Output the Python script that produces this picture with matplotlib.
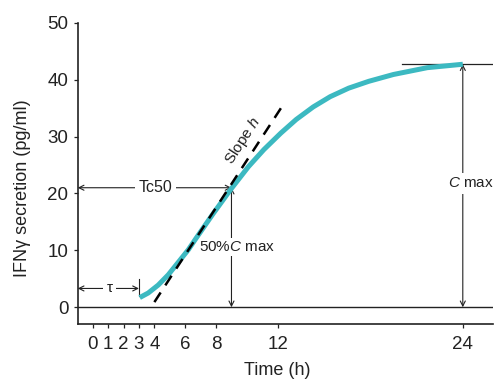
import matplotlib
matplotlib.use("Agg")
import matplotlib.pyplot as plt

plt.rcParams['font.family'] = ['Liberation Sans', 'DejaVu Sans']
plt.rcParams['mathtext.fontset'] = 'custom'
plt.rcParams['mathtext.it'] = 'Liberation Sans:italic'
plt.rcParams['mathtext.rm'] = 'Liberation Sans'

# ---- data ----
time_h = [3.05, 3.6, 4.25, 4.9, 5.55, 6.2, 6.7, 7.8, 8.95, 10.1, 11.1, 12.2,
          13.2, 14.3, 15.4, 16.6, 17.9, 19.5, 21.7, 24.0]
ifng = [1.7, 2.5, 3.9, 5.7, 7.9, 10.1, 12.1, 16.4, 20.7, 24.7, 27.7, 30.6,
        33.0, 35.2, 37.0, 38.5, 39.7, 40.9, 42.1, 42.7]
slope_t = [4.0, 12.5]
slope_y = [0.9, 36.2]
x_ticks = [0, 1, 2, 3, 4, 6, 8, 12, 24]
y_ticks = [0, 10, 20, 30, 40, 50]
tau = 3.0
tc50 = 9.0
cmax = 42.7
c50 = 21.0
t_cmax = 24.0

xmin, xmax = -0.97, 25.96
ymin, ymax = -3, 50

fig = plt.figure(figsize=(4.96, 3.81), dpi=100)
ax = fig.add_axes([0.1567, 0.1488, 0.8373, 0.7916])
ax.set_xlim(xmin, xmax)
ax.set_ylim(ymin, ymax)

ink = '#222222'
for s in ['top', 'right']:
    ax.spines[s].set_visible(False)
for s in ['left', 'bottom']:
    ax.spines[s].set_linewidth(1.2)
    ax.spines[s].set_color(ink)

ax.set_xticks(x_ticks)
ax.set_yticks(y_ticks)
ax.tick_params(axis='both', direction='out', length=3.2, width=0.9,
               colors=ink, labelsize=13.5)
ax.tick_params(axis='x', pad=5)
ax.tick_params(axis='y', pad=3.5)

ax.set_xlabel('Time (h)', fontsize=13, color=ink)
ax.xaxis.set_label_coords(0.481, -0.125)
ax.set_ylabel('IFNγ secretion (pg/ml)', fontsize=13, color=ink)
ax.yaxis.set_label_coords(-0.112, 0.452)

# baseline at zero
ax.axhline(0, color=ink, lw=1.0, zorder=1)

# main curve
ax.plot(time_h, ifng, color='#3cb9c1', lw=3.6, solid_capstyle='butt',
        solid_joinstyle='round', zorder=3)
# slope dashed line
ax.plot(slope_t, slope_y, color='black', lw=1.8,
        linestyle=(0, (4.6, 3.4)), zorder=4)

arrow_kw = dict(arrowstyle='<->', shrinkA=0, shrinkB=0, lw=0.8,
                color=ink, mutation_scale=9)
box = dict(facecolor='white', edgecolor='none', pad=2.5)

# tau
ax.annotate('', xy=(xmin, 3.3), xytext=(tau, 3.3), arrowprops=arrow_kw, zorder=2)
ax.plot([tau, tau], [2.0, 5.0], color=ink, lw=0.8, zorder=2)
ax.text(1.12, 3.3, 'τ', fontsize=11, ha='center', va='center', color=ink,
        bbox=box, zorder=2.5)

# Tc50
ax.annotate('', xy=(xmin, c50), xytext=(tc50, c50), arrowprops=arrow_kw, zorder=2)
ax.text(4.05, c50, 'Tc50', fontsize=11.5, ha='center', va='center', color=ink,
        bbox=box, zorder=2.5)

# 50% Cmax
ax.annotate('', xy=(tc50, c50), xytext=(tc50, 0), arrowprops=arrow_kw, zorder=2)
ax.text(6.9, 10.6, r'50%$\mathit{C}$ max', fontsize=11, ha='left', va='center',
        color=ink, bbox=dict(facecolor='white', edgecolor='none', pad=1.5),
        zorder=2.5)

# Cmax
ax.plot([20.04, xmax], [cmax, cmax], color=ink, lw=0.9, zorder=2)
ax.annotate('', xy=(t_cmax, cmax), xytext=(t_cmax, 0), arrowprops=arrow_kw, zorder=2)
ax.text(24.53, 21.8, r'$\mathit{C}$ max', fontsize=11, ha='center', va='center',
        color=ink, bbox=box, zorder=2.5)

# Slope h
ax.text(9.75, 29.2, r'Slope $\mathit{h}$', fontsize=11, ha='center', va='center',
        rotation=57, rotation_mode='anchor', color=ink, zorder=2.5)

fig.savefig('out.png', dpi=100)
